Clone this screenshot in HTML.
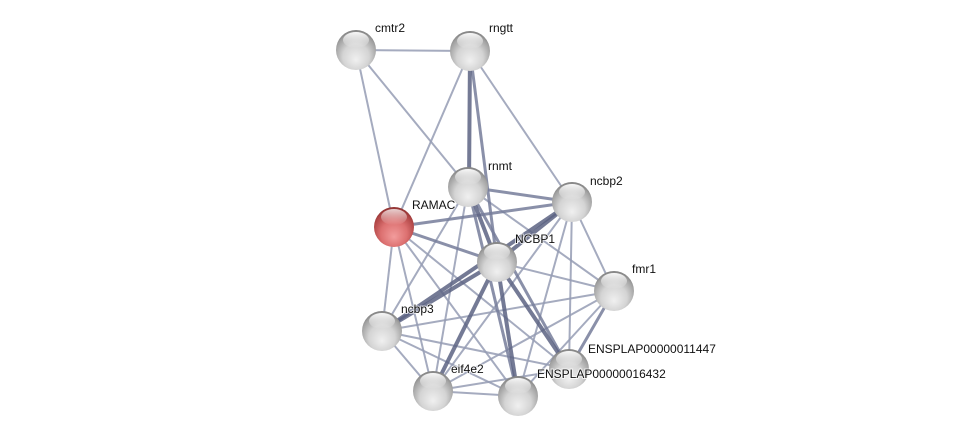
<!DOCTYPE html>
<html><head><meta charset="utf-8"><style>
html,body{margin:0;padding:0;background:#fff;}
svg{display:block;}
text{font-family:"Liberation Sans",Arial,sans-serif;font-size:12px;fill:#111;paint-order:stroke;stroke:#fff;stroke-width:2px;stroke-opacity:0.7;}
</style></head><body>
<svg width="975" height="441" viewBox="0 0 975 441" xmlns="http://www.w3.org/2000/svg">
<defs>
<radialGradient id="g" cx="0.5" cy="0.62" r="0.6" fx="0.5" fy="0.75">
<stop offset="0" stop-color="#f0f0f0"/><stop offset="0.55" stop-color="#d4d4d4"/><stop offset="0.88" stop-color="#a2a2a2"/><stop offset="1" stop-color="#858585"/>
</radialGradient>
<radialGradient id="r" cx="0.5" cy="0.62" r="0.6" fx="0.5" fy="0.75">
<stop offset="0" stop-color="#f29c9c"/><stop offset="0.55" stop-color="#dc7070"/><stop offset="0.88" stop-color="#b04646"/><stop offset="1" stop-color="#923434"/>
</radialGradient>
<linearGradient id="h" x1="0" y1="0" x2="0" y2="1">
<stop offset="0" stop-color="#fff" stop-opacity="0.95"/><stop offset="1" stop-color="#fff" stop-opacity="0"/>
</linearGradient>
</defs>
<g stroke-linecap="round" fill="none">
<g stroke="#959cb4" stroke-width="2" stroke-opacity="0.85">
<line x1="356" y1="50" x2="470" y2="51"/>
<line x1="356" y1="50" x2="394" y2="227"/>
<line x1="356" y1="50" x2="468" y2="187"/>
<line x1="470" y1="51" x2="394" y2="227"/>
<line x1="470" y1="51" x2="572" y2="202"/>
<line x1="468" y1="187" x2="382" y2="331"/>
<line x1="468" y1="187" x2="433" y2="391"/>
<line x1="468" y1="187" x2="614" y2="291"/>
<line x1="394" y1="227" x2="382" y2="331"/>
<line x1="394" y1="227" x2="433" y2="391"/>
<line x1="394" y1="227" x2="518" y2="396"/>
<line x1="394" y1="227" x2="569" y2="369"/>
<line x1="572" y1="202" x2="433" y2="391"/>
<line x1="572" y1="202" x2="518" y2="396"/>
<line x1="572" y1="202" x2="569" y2="369"/>
<line x1="572" y1="202" x2="614" y2="291"/>
<line x1="614" y1="291" x2="382" y2="331"/>
<line x1="614" y1="291" x2="433" y2="391"/>
<line x1="614" y1="291" x2="518" y2="396"/>
<line x1="382" y1="331" x2="433" y2="391"/>
<line x1="382" y1="331" x2="518" y2="396"/>
<line x1="382" y1="331" x2="569" y2="369"/>
<line x1="433" y1="391" x2="518" y2="396"/>
<line x1="433" y1="391" x2="569" y2="369"/>
<line x1="497" y1="262" x2="614" y2="291"/>
</g>
<g stroke="#767d9a" stroke-width="3" stroke-opacity="0.85">
<line x1="394" y1="227" x2="572" y2="202"/>
<line x1="394" y1="227" x2="497" y2="262"/>
<line x1="468" y1="187" x2="518" y2="396"/>
<line x1="468" y1="187" x2="569" y2="369"/>
<line x1="614" y1="291" x2="569" y2="369"/>
<line x1="468" y1="187" x2="572" y2="202"/>
<line x1="470" y1="51" x2="497" y2="262"/>
</g>
<g stroke="#5c6383" stroke-width="4" stroke-opacity="0.85">
<line x1="470" y1="51" x2="469" y2="187"/>
<line x1="468" y1="187" x2="497" y2="262"/>
<line x1="572" y1="202" x2="497" y2="262"/>
<line x1="572" y1="202" x2="382" y2="331"/>
<line x1="497" y1="262" x2="382" y2="331"/>
<line x1="497" y1="262" x2="433" y2="391"/>
<line x1="497" y1="262" x2="518" y2="396"/>
<line x1="497" y1="262" x2="569" y2="369"/>
</g>
</g>
<g>
<g transform="translate(356,50)"><circle r="20" fill="url(#g)"/><ellipse cx="0" cy="-10" rx="13" ry="8" fill="url(#h)"/></g>
<g transform="translate(470,51)"><circle r="20" fill="url(#g)"/><ellipse cx="0" cy="-10" rx="13" ry="8" fill="url(#h)"/></g>
<g transform="translate(468,187)"><circle r="20" fill="url(#g)"/><ellipse cx="0" cy="-10" rx="13" ry="8" fill="url(#h)"/></g>
<g transform="translate(572,202)"><circle r="20" fill="url(#g)"/><ellipse cx="0" cy="-10" rx="13" ry="8" fill="url(#h)"/></g>
<g transform="translate(394,227)"><circle r="20" fill="url(#r)"/><ellipse cx="0" cy="-10" rx="13" ry="8" fill="url(#h)" opacity="0.8"/></g>
<g transform="translate(497,262)"><circle r="20" fill="url(#g)"/><ellipse cx="0" cy="-10" rx="13" ry="8" fill="url(#h)"/></g>
<g transform="translate(614,291)"><circle r="20" fill="url(#g)"/><ellipse cx="0" cy="-10" rx="13" ry="8" fill="url(#h)"/></g>
<g transform="translate(382,331)"><circle r="20" fill="url(#g)"/><ellipse cx="0" cy="-10" rx="13" ry="8" fill="url(#h)"/></g>
<g transform="translate(569,369)"><circle r="20" fill="url(#g)"/><ellipse cx="0" cy="-10" rx="13" ry="8" fill="url(#h)"/></g>
<g transform="translate(433,391)"><circle r="20" fill="url(#g)"/><ellipse cx="0" cy="-10" rx="13" ry="8" fill="url(#h)"/></g>
<g transform="translate(518,396)"><circle r="20" fill="url(#g)"/><ellipse cx="0" cy="-10" rx="13" ry="8" fill="url(#h)"/></g>
</g>
<text x="375" y="32">cmtr2</text>
<text x="489" y="32">rngtt</text>
<text x="488" y="170">rnmt</text>
<text x="590" y="185">ncbp2</text>
<text x="412" y="209">RAMAC</text>
<text x="515" y="243">NCBP1</text>
<text x="632" y="273">fmr1</text>
<text x="401" y="313">ncbp3</text>
<text x="588" y="353">ENSPLAP00000011447</text>
<text x="451" y="373">eif4e2</text>
<text x="537" y="378">ENSPLAP00000016432</text>
</svg>
</body></html>
